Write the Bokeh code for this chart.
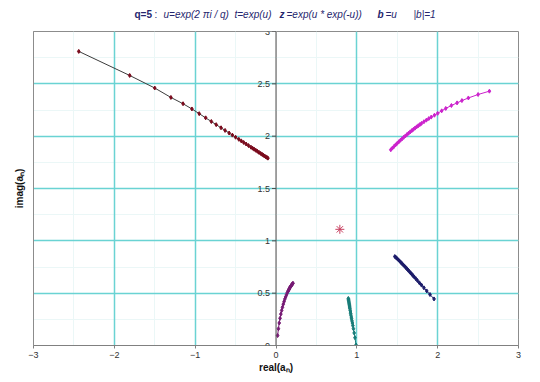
import math
from bokeh.plotting import figure
from bokeh.layouts import column
from bokeh.models import (Range1d, LinearAxis, FixedTicker, Grid, LabelSet,
                          Span, ColumnDataSource)
from bokeh.embed import file_html
from bokeh.resources import INLINE
from bokeh.core.properties import value

# ---------------- data ----------------
x_ticks = [-3, -2, -1, 0, 1, 2, 3]
x_grid = [-2, -1, 1, 2]
y_ticks = [0, 0.5, 1, 1.5, 2, 2.5, 3]
y_tick_labels = ["0", "0.5", "1", "1.5", "2", "2.5", "3"]
x_minor = [-2.5, -1.5, -0.5, 0.5, 1.5, 2.5]
y_minor = [0.25, 0.75, 1.25, 1.75, 2.25, 2.75]

s1_re = [-2.44, -1.81, -1.50, -1.30, -1.15, -1.04, -0.95, -0.87, -0.80, -0.74, -0.68,
         -0.63, -0.58, -0.54, -0.50, -0.46, -0.43, -0.40, -0.37, -0.34, -0.31, -0.29,
         -0.27, -0.25, -0.23, -0.21, -0.19, -0.17, -0.155, -0.14, -0.125, -0.11, -0.10]
s1_im = [2.81, 2.58, 2.46, 2.37, 2.31, 2.26, 2.215, 2.175, 2.14, 2.11, 2.08,
         2.055, 2.03, 2.01, 1.99, 1.97, 1.955, 1.94, 1.925, 1.91, 1.895, 1.885,
         1.875, 1.865, 1.855, 1.845, 1.835, 1.825, 1.817, 1.81, 1.802, 1.795, 1.79]

s2_re = [1.42, 1.44, 1.46, 1.48, 1.50, 1.52, 1.54, 1.56, 1.58, 1.60, 1.62, 1.64, 1.66,
         1.68, 1.70, 1.72, 1.74, 1.76, 1.78, 1.80, 1.83, 1.86, 1.89, 1.92, 1.96, 2.00,
         2.05, 2.10, 2.17, 2.24, 2.30, 2.38, 2.50, 2.64]
s2_im = [1.870, 1.886, 1.902, 1.917, 1.932, 1.947, 1.961, 1.975, 1.989, 2.002, 2.015,
         2.028, 2.041, 2.053, 2.065, 2.077, 2.089, 2.100, 2.111, 2.122, 2.138, 2.153,
         2.168, 2.182, 2.200, 2.218, 2.242, 2.265, 2.293, 2.318, 2.340, 2.365, 2.398, 2.430]

s3_re = [0.02, 0.03, 0.04, 0.05, 0.06, 0.07, 0.08, 0.09, 0.10, 0.11, 0.12, 0.13, 0.14,
         0.15, 0.155, 0.16, 0.165, 0.17, 0.175, 0.18, 0.185, 0.19, 0.195, 0.20, 0.205, 0.21]
s3_im = [0.095, 0.16, 0.215, 0.26, 0.30, 0.335, 0.365, 0.395, 0.42, 0.445, 0.465, 0.485,
         0.505, 0.52, 0.528, 0.535, 0.543, 0.55, 0.557, 0.563, 0.569, 0.575, 0.58, 0.585,
         0.59, 0.595]

s4_re = [0.895, 0.897, 0.899, 0.901, 0.903, 0.905, 0.907, 0.909, 0.911, 0.913, 0.915,
         0.918, 0.921, 0.924, 0.927, 0.931, 0.935, 0.940, 0.945, 0.951, 0.958, 0.967,
         0.977, 0.990]
s4_im = [0.450, 0.440, 0.430, 0.420, 0.410, 0.400, 0.390, 0.380, 0.370, 0.360, 0.350,
         0.335, 0.320, 0.305, 0.290, 0.272, 0.255, 0.235, 0.215, 0.190, 0.160, 0.120,
         0.075, 0.005]

s5_re = [1.470, 1.485, 1.500, 1.515, 1.530, 1.545, 1.560, 1.575, 1.590, 1.605, 1.620,
         1.635, 1.650, 1.665, 1.680, 1.695, 1.710, 1.730, 1.750, 1.775, 1.800, 1.830,
         1.865, 1.905, 1.955]
s5_im = [0.850, 0.840, 0.829, 0.818, 0.806, 0.794, 0.782, 0.770, 0.758, 0.745, 0.733,
         0.720, 0.707, 0.694, 0.681, 0.668, 0.655, 0.638, 0.620, 0.598, 0.577, 0.551,
         0.521, 0.487, 0.445]

fixed_re = [0.79]
fixed_im = [1.11]

title_parts = ["q=5", ":", "u=exp(2 πi / q)", "t=exp(u)", "z", "=exp(u * exp(-u))",
               "b", "=u", "|b|=1"]

FONT = "Liberation Sans"
GRID = "#6ad3d3"
TCOL = "#26266e"

# ---------------- title strip ----------------
t = figure(width=540, height=25, frame_width=540, frame_height=25,
           x_range=Range1d(0, 540), y_range=Range1d(0, 25),
           output_backend="svg", toolbar_location=None,
           x_axis_location=None, y_axis_location=None,
           min_border_left=0, min_border_right=0, min_border_top=0, min_border_bottom=0)
t.outline_line_color = None
t.xgrid.visible = False
t.ygrid.visible = False
title_x = [101, 121, 130, 201, 246, 253, 344, 352, 380]
title_style = ["bold", "normal", "italic", "italic", "bold italic", "italic",
               "bold italic", "italic", "italic"]
for txt, xs, style in zip(title_parts, title_x, title_style):
    t.text(x=[xs], y=[11], text=[txt], text_font=value(FONT), text_font_size="10px",
           text_font_style=style, text_color=TCOL, text_baseline="middle",
           text_align="left")

# ---------------- main chart ----------------
p = figure(width=540, height=357, x_range=Range1d(-3, 3), y_range=Range1d(0, 3),
           output_backend="svg", toolbar_location=None,
           x_axis_location=None, y_axis_location=None,
           min_border_left=33, min_border_right=22, min_border_top=6, min_border_bottom=37)
p.outline_line_color = "#8c8c8c"
p.background_fill_color = "white"
p.border_fill_color = "white"

p.add_layout(Grid(dimension=0, ticker=FixedTicker(ticks=x_minor), grid_line_color="#ebf7f7", grid_line_width=1))
p.add_layout(Grid(dimension=1, ticker=FixedTicker(ticks=y_minor), grid_line_color="#ebf7f7", grid_line_width=1))
p.add_layout(Grid(dimension=0, ticker=FixedTicker(ticks=x_grid), grid_line_color=GRID, grid_line_width=1.5))
p.add_layout(Grid(dimension=1, ticker=FixedTicker(ticks=y_ticks), grid_line_color=GRID, grid_line_width=1.5))

xaxis = LinearAxis(ticker=FixedTicker(ticks=x_ticks), axis_label="real(aₙ)")
xaxis.axis_line_color = "#808080"
xaxis.major_tick_line_color = "#808080"
xaxis.major_tick_out = 3
xaxis.major_tick_in = 0
xaxis.minor_tick_line_color = None
xaxis.major_label_standoff = 3
xaxis.major_label_text_font = FONT
xaxis.major_label_text_font_size = "9px"
xaxis.major_label_text_color = "#333333"
xaxis.axis_label_text_font = FONT
xaxis.axis_label_text_font_size = "10px"
xaxis.axis_label_text_font_style = "bold"
xaxis.axis_label_text_color = "#111111"
xaxis.axis_label_standoff = 1
p.add_layout(xaxis, "below")

yaxis = LinearAxis(ticker=FixedTicker(ticks=[]), axis_label="imag(aₙ)")
yaxis.axis_line_color = "#8c8c8c"
yaxis.major_tick_line_color = None
yaxis.minor_tick_line_color = None
yaxis.axis_label_text_font = FONT
yaxis.axis_label_text_font_size = "10px"
yaxis.axis_label_text_font_style = "bold"
yaxis.axis_label_text_color = "#111111"
yaxis.axis_label_standoff = 9
p.add_layout(yaxis, "left")

p.add_layout(Span(location=0, dimension="height", line_color="#505050", line_width=1))
p.ray(x=[0] * len(y_ticks), y=y_ticks, length=4, length_units="screen", angle=math.pi,
      line_color="#505050", line_width=1)
ysrc = ColumnDataSource(dict(x=[0] * len(y_ticks), y=y_ticks, t=y_tick_labels))
p.add_layout(LabelSet(x="x", y="y", text="t", source=ysrc, x_offset=-6,
                      text_align="right", text_baseline="middle",
                      text_font=value(FONT), text_font_size="9px", text_color="#333333"))

def series(re, im, mcolor, lcolor):
    p.line(re, im, line_color=lcolor, line_width=1)
    p.scatter(re, im, marker="diamond", size=4, fill_color=mcolor, line_color=mcolor)

series(s1_re, s1_im, "#7a0a1c", "#3c3c3c")
series(s2_re, s2_im, "#cc22cc", "#cc22cc")
series(s3_re, s3_im, "#761a74", "#761a74")
series(s4_re, s4_im, "#187c78", "#187c78")
series(s5_re, s5_im, "#1c1c6a", "#1c1c6a")
p.scatter(fixed_re, fixed_im, marker="asterisk", size=9, line_color="#c84060", line_width=1)

layout = column(t, p, spacing=0)
open("out.html", "w").write(file_html(layout, INLINE))
